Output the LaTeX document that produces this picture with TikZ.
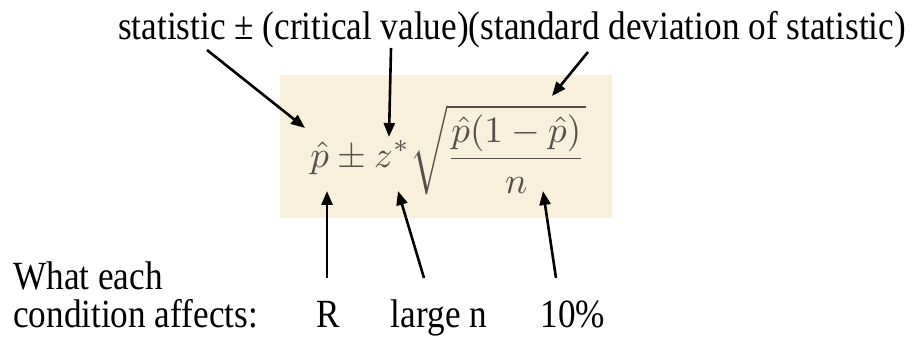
\documentclass[tikz,border=0pt]{standalone}
\usepackage{fontspec}
\setmainfont{Liberation Serif}
\usetikzlibrary{arrows.meta}

\newcommand{\condensed}[1]{\scalebox{0.88}[1]{#1}}

\begin{document}
\begin{tikzpicture}[x=1pt, y=-1pt,
    wording/.style={font=\fontsize{40}{42}\selectfont, inner sep=0pt},
    pointer/.style={-{Triangle[length=14pt, width=11pt]}, line width=2.6pt}]

    \definecolor{boxColour}{HTML}{F8F0DA}
    \definecolor{mathColour}{HTML}{55504A}

    % Fix the page size
    \useasboundingbox (0,0) rectangle (914,339);

    % Draw the shaded formula box
    \fill[boxColour] (280,75) rectangle (612,218);

    % Formula
    \node[inner sep=0pt, text=mathColour] (formula) at (448,150)
        {\scalebox{3.7}{$\displaystyle \hat{p} \pm z^{*}\sqrt{\frac{\hat{p}(1-\hat{p})}{n}}$}};

    % Top line of text
    \node[wording, anchor=base west] (general) at (118,40)
        {\condensed{statistic ± (critical value)(standard deviation of statistic)}};

    % Bottom lines of text
    \node[wording, anchor=base west] (what) at (13,290) {\condensed{What each}};
    \node[wording, anchor=base west] (affects) at (13,328) {\condensed{condition affects:}};
    \node[wording, anchor=base] (R) at (328,328) {\condensed{R}};
    \node[wording, anchor=base] (largen) at (439,328) {\condensed{large n}};
    \node[wording, anchor=base] (tenpct) at (573,328) {\condensed{10\%}};

    % Arrow ends
    \coordinate (statTail) at (207,50);
    \coordinate (statHead) at (305,128);
    \coordinate (critTail) at (391,48);
    \coordinate (critHead) at (389,137);
    \coordinate (sdTail) at (588,52);
    \coordinate (sdHead) at (552,96);
    \coordinate (RTail) at (327,278);
    \coordinate (RHead) at (327,191);
    \coordinate (nTail) at (424,278);
    \coordinate (nHead) at (398,191);
    \coordinate (tenTail) at (556,278);
    \coordinate (tenHead) at (543,191);

    % Draw the arrows
    \draw[pointer] (statTail) -- (statHead);
    \draw[pointer] (critTail) -- (critHead);
    \draw[pointer] (sdTail) -- (sdHead);
    \draw[pointer] (RTail) -- (RHead);
    \draw[pointer] (nTail) -- (nHead);
    \draw[pointer] (tenTail) -- (tenHead);

\end{tikzpicture}
\end{document}
